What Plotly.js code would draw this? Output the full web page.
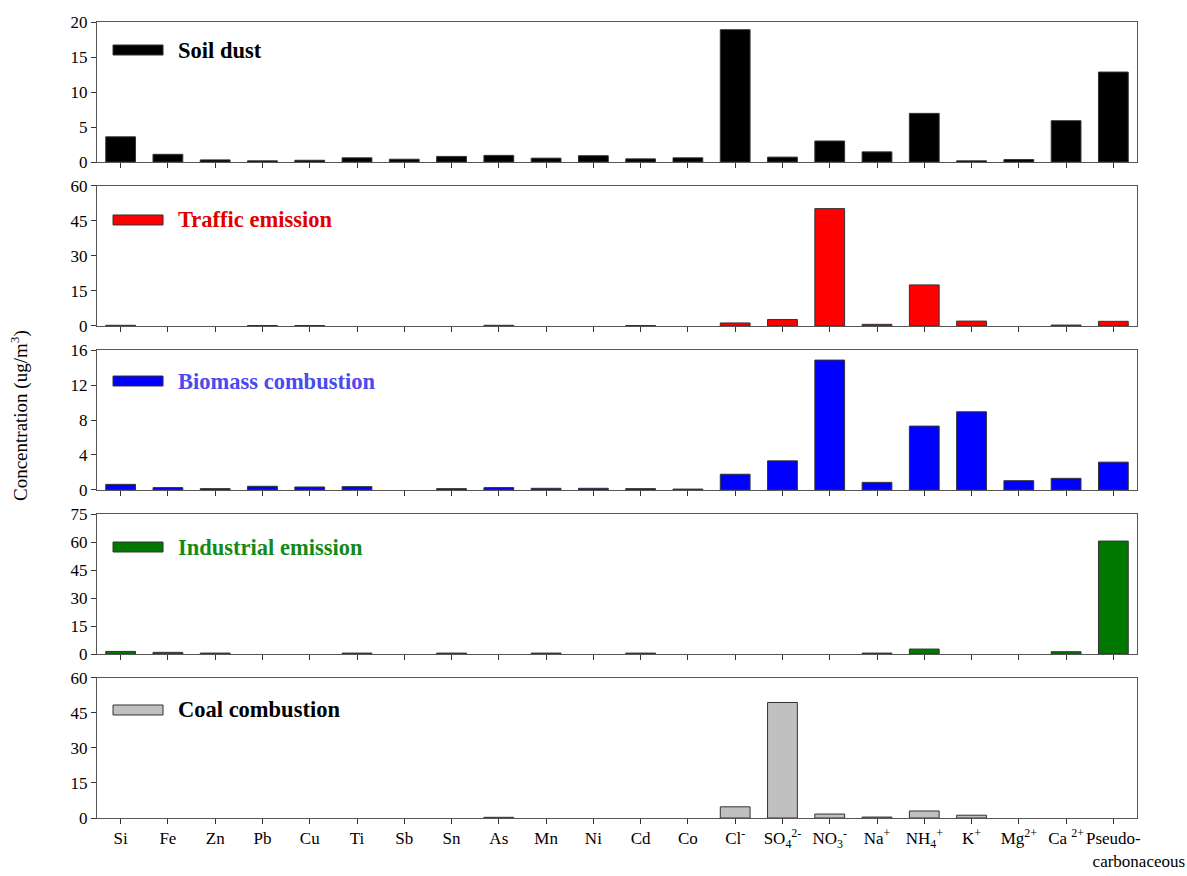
<!DOCTYPE html>
<html>
<head>
<meta charset="utf-8">
<script src="https://cdn.plot.ly/plotly-3.0.1.min.js"></script>
<style>html,body{margin:0;padding:0;background:#fff;}#chart{width:1187px;height:876px;}</style>
</head>
<body>
<div id="chart"></div>
<script>
var categories = ["Si","Fe","Zn","Pb","Cu","Ti","Sb","Sn","As","Mn","Ni","Cd","Co",
  "Cl<sup>-</sup>","SO<sub>4</sub><sup>2-</sup>","NO<sub>3</sub><sup>-</sup>","Na<sup>+</sup>",
  "NH<sub>4</sub><sup>+</sup>","K<sup>+</sup>","Mg<sup>2+</sup>","Ca <sup>2+</sup>",
  "Pseudo-<br>&nbsp;&nbsp;&nbsp;&nbsp;&nbsp;&nbsp;&nbsp;&nbsp;&nbsp;&nbsp;&nbsp;&nbsp;carbonaceous"];

var soilDust    = [3.6,1.1,0.3,0.17,0.25,0.6,0.4,0.8,0.95,0.55,0.9,0.45,0.6,18.9,0.7,3.0,1.45,6.95,0.17,0.35,5.9,12.85];
var traffic     = [0.3,0,0,0.2,0.2,0,0,0,0.3,0,0,0.2,0,1.3,2.8,50.3,0.7,17.6,2.1,0,0.4,2.0];
var biomass     = [0.64,0.27,0.15,0.42,0.34,0.38,0,0.15,0.27,0.19,0.19,0.15,0.1,1.8,3.33,14.85,0.87,7.3,8.94,1.06,1.33,3.18];
var industrial  = [1.4,0.9,0.5,0,0,0.5,0,0.5,0,0.5,0,0.5,0,0,0,0,0.5,2.66,0,0,1.24,60.5];
var coal        = [0,0,0,0,0,0,0,0,0.3,0,0,0,0,4.8,49.5,1.7,0.4,3.0,1.2,0,0,0];

var seriesNames = ["Soil dust","Traffic emission","Biomass combustion","Industrial emission","Coal combustion"];
var seriesData  = [soilDust, traffic, biomass, industrial, coal];
var yMax        = [20, 60, 16, 75, 60];
var yStep       = [5, 15, 4, 15, 15];

var barColors  = ["#000000","#ff0000","#0000ff","#007800","#c0c0c0"];
var textColors = ["#000000","#e00000","#4a4aee","#168a16","#000000"];
var legendOffset = [28, 34, 31, 33, 32];

var domains = [[0.8241,1.0],[0.6181,0.7940],[0.4121,0.5879],[0.2060,0.3819],[0,0.1759]];

var FONT = "Liberation Serif, Times New Roman, serif";
var traces = [];
var layout = {
  width:1187, height:876,
  margin:{l:97, r:50, t:22, b:58},
  paper_bgcolor:"#fff", plot_bgcolor:"#fff",
  showlegend:false,
  font:{family:FONT, size:16, color:"#000"},
  shapes:[], annotations:[]
};

var xs = categories.map(function(c,i){return i;});

for (var i=0;i<5;i++){
  var n = i+1;
  var xa = n===1 ? "x" : "x"+n;
  var ya = n===1 ? "y" : "y"+n;
  traces.push({
    type:"bar", x:xs, y:seriesData[i], xaxis:xa, yaxis:ya,
    width:0.63, name:seriesNames[i],
    marker:{color:barColors[i], line:{color:"#333", width:seriesData[i].map(function(v){return v>0?1:0;})}},
    hoverinfo:"x+y"
  });
  var xKey = n===1 ? "xaxis" : "xaxis"+n;
  var yKey = n===1 ? "yaxis" : "yaxis"+n;
  var ticks = [];
  for (var v=0; v<=yMax[i]; v+=yStep[i]) ticks.push(v);
  layout[xKey] = {
    domain:[0,1], anchor:ya, range:[-0.5, categories.length-0.5],
    tickmode:"array", tickvals:xs, ticktext:categories, tickangle:0,
    showticklabels: n===5,
    ticks:"outside", ticklen:5, tickcolor:"#333", tickwidth:1,
    showline:true, linecolor:"#555", linewidth:1, mirror:true,
    showgrid:false, zeroline:false, fixedrange:true,
    tickfont:{size:17, family:FONT}
  };
  layout[yKey] = {
    domain:domains[i], anchor:xa, range:[0,yMax[i]],
    tickmode:"array", tickvals:ticks,
    ticks:"outside", ticklen:5, tickcolor:"#333", tickwidth:1,
    showline:true, linecolor:"#555", linewidth:1, mirror:true,
    showgrid:false, zeroline:false, fixedrange:true,
    tickfont:{size:17, family:FONT}
  };
  var yc = 1 - legendOffset[i]/140;
  layout.shapes.push({
    type:"rect", xref:xa+" domain", yref:ya+" domain",
    x0:0.0154, x1:0.0635, y0:yc-5/140, y1:yc+5/140,
    fillcolor:barColors[i], line:{color:"#333", width:1}
  });
  layout.annotations.push({
    xref:xa+" domain", yref:ya+" domain", x:0.076, y:yc,
    xanchor:"left", yanchor:"middle", showarrow:false,
    text:"<b>"+seriesNames[i]+"</b>",
    font:{size:22.5, color:textColors[i], family:FONT}
  });
}

layout.annotations.push({
  xref:"paper", yref:"paper", x:-0.075, y:0.505, xanchor:"center", yanchor:"middle",
  textangle:-90, showarrow:false,
  text:"Concentration (ug/m<sup>3</sup>)",
  font:{size:19, color:"#000", family:FONT}
});

Plotly.newPlot("chart", traces, layout, {displayModeBar:false, staticPlot:true});
</script>
</body>
</html>
